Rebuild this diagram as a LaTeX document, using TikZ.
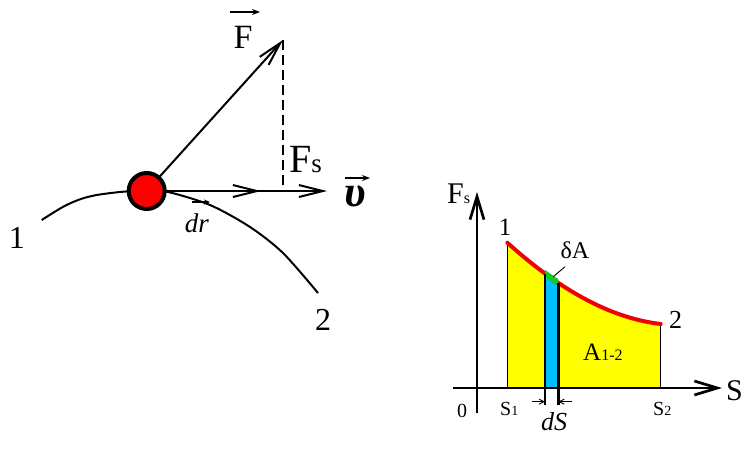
\documentclass[tikz,border=0pt]{standalone}
\usepackage{fontspec}
\setmainfont{Liberation Serif}
\usetikzlibrary{arrows.meta,calc}
\definecolor{myyellow}{RGB}{255,255,0}
\definecolor{mycyan}{RGB}{0,190,255}
\definecolor{mygreen}{RGB}{20,200,40}
\definecolor{myred}{RGB}{240,0,0}
\begin{document}
\begin{tikzpicture}[x=1pt,y=-1pt,
  thick line/.style={line width=2pt},
  barb/.style={-{Straight Barb[length=24pt,width=12pt]}},
  axisbarb/.style={-{Straight Barb[length=23pt,width=14pt]}},
  smallbarb/.style={-{Straight Barb[length=5pt,width=5pt]}},
  vecarr/.style={line width=1.3pt,-{Stealth[length=8pt,width=6pt]}},
  lbl/.style={inner sep=0pt,anchor=base},
  lblw/.style={inner sep=0pt,anchor=base west},
]
\useasboundingbox[fill=white] (0,0) rectangle (753,455);

% ---------------- left figure ----------------
\coordinate (ballc) at (146.7,191);
\coordinate (Ftip) at (283,40);
\coordinate (Ffoot) at (283,191);
\coordinate (drtip) at (261,191);
\coordinate (vtip) at (327,191);

% trajectory
\draw[thick line] plot[smooth] coordinates
  {(41.7,220) (63.3,206.7) (80,199.3) (96.7,195) (123.3,191.7) (147,190.8) (167,191.7) (210,205) (250,227) (283,253) (318,293)};

% dashed projection
\draw[line width=1.5pt,dash pattern=on 10pt off 5pt] (Ftip) -- (Ffoot);

% force and velocity arrows
\draw[thick line,barb] (ballc) -- (Ftip);
\draw[thick line,barb] (ballc) -- (vtip);
\draw[thick line,barb] (ballc) -- (drtip);

% ball
\node[circle,fill=red,draw=black,line width=4pt,minimum size=36pt,inner sep=0pt] (ball) at (ballc) {};

% labels
\node[lbl,font=\fontsize{34}{36}\selectfont] (Flab) at (243,48) {F};
\draw[vecarr] ($(Flab.base)+(-13,-36)$) -- ($(Flab.base)+(17,-36)$);
\node[lblw,font=\fontsize{40}{42}\selectfont] (Fslab) at (289,172) {F{\fontsize{27}{28}\selectfont s}};
\node[lbl,font=\fontsize{44}{46}\selectfont] (vlab) at (355,206) {\textbf{\textit{υ}}};
\draw[vecarr] ($(vlab.base)+(-10,-28)$) -- ($(vlab.base)+(15,-28)$);
\node[lbl,font=\fontsize{27}{29}\selectfont] (drlab) at (197,232) {\textit{dr}};
\draw[line width=1.1pt,-{Stealth[length=6pt,width=5pt]}] ($(drlab.base)+(-5,-30)$) -- ($(drlab.base)+(13,-30)$);
\node[lbl,font=\fontsize{32}{34}\selectfont] (one) at (17,248) {1};
\node[lbl,font=\fontsize{32}{34}\selectfont] (two) at (323,330) {2};

% ---------------- right figure ----------------
\coordinate (xstart) at (453,388);
\coordinate (xend) at (722,388);
\coordinate (ystart) at (477,413);
\coordinate (yend) at (477,192);
\coordinate (P1) at (507.3,242.7);
\coordinate (P2) at (660.7,324);
\coordinate (S1b) at (507.3,388);
\coordinate (S2b) at (660.7,388);
\coordinate (C1) at (560,290);
\coordinate (C2) at (610,318);

% yellow area
\fill[myyellow] (S1b) -- (P1) .. controls (C1) and (C2) .. (P2) -- (S2b) -- cycle;
% blue strip
\begin{scope}
  \clip (S1b) -- (P1) .. controls (C1) and (C2) .. (P2) -- (S2b) -- cycle;
  \fill[mycyan] (545,390) rectangle (558.3,230);
\end{scope}
% thin borders
\draw[line width=0.9pt] (S1b) -- (P1);
\draw[line width=0.9pt] (S2b) -- (P2);
% red curve
\draw[myred,line width=4pt,line cap=round] (P1) .. controls (C1) and (C2) .. (P2);
% green segment
\begin{scope}
  \clip (545,200) rectangle (558.3,300);
  \draw[mygreen,line width=6pt] (P1) .. controls (C1) and (C2) .. (P2);
\end{scope}
% strip edges
\coordinate (Lt) at (545,273.5);
\coordinate (Lb) at (545,405);
\coordinate (Rt) at (558.3,283.2);
\coordinate (Rb) at (558.3,405);
\draw[line width=2.6pt] (Lt) -- (Lb);
\draw[line width=2.6pt] (Rt) -- (Rb);

% axes
\draw[line width=2.7pt,axisbarb] (xstart) -- (xend);
\draw[line width=2.7pt,axisbarb] (ystart) -- (yend);

% dS marker
\coordinate (dSl) at (531.7,401.7);
\coordinate (dSr) at (571.7,401.7);
\coordinate (dSli) at (545,401.7);
\coordinate (dSri) at (558.3,401.7);
\draw[line width=0.9pt,smallbarb] (dSl) -- (dSli);
\draw[line width=0.9pt,smallbarb] (dSr) -- (dSri);

% delta A leader
\coordinate (dAa) at (565,266.7);
\coordinate (dAb) at (553.3,276.7);
\draw[line width=0.9pt] (dAa) -- (dAb);

% labels
\node[lblw,font=\fontsize{30}{32}\selectfont] (Fsax) at (447,203) {F{\fontsize{16}{17}\selectfont s}};
\node[lbl,font=\fontsize{25}{27}\selectfont] (r1) at (505,235) {1};
\node[lbl,font=\fontsize{24}{26}\selectfont] (dA) at (575,258) {δA};
\node[lbl,font=\fontsize{26}{28}\selectfont] (r2) at (675.5,328) {2};
\node[lblw,font=\fontsize{25}{27}\selectfont] (A12) at (583,360) {A{\fontsize{16}{17}\selectfont 1-2}};
\node[lbl,font=\fontsize{30}{32}\selectfont] (Slab) at (734.5,400) {S};
\node[lbl,font=\fontsize{20}{22}\selectfont] (zero) at (462,417) {0};
\node[lblw,font=\fontsize{20}{22}\selectfont] (S1lab) at (500,415) {S{\fontsize{14}{15}\selectfont 1}};
\node[lblw,font=\fontsize{20}{22}\selectfont] (S2lab) at (653,415) {S{\fontsize{14}{15}\selectfont 2}};
\node[lbl,font=\fontsize{26}{28}\selectfont] (dSlab) at (554,430) {\textit{dS}};
\end{tikzpicture}
\end{document}
